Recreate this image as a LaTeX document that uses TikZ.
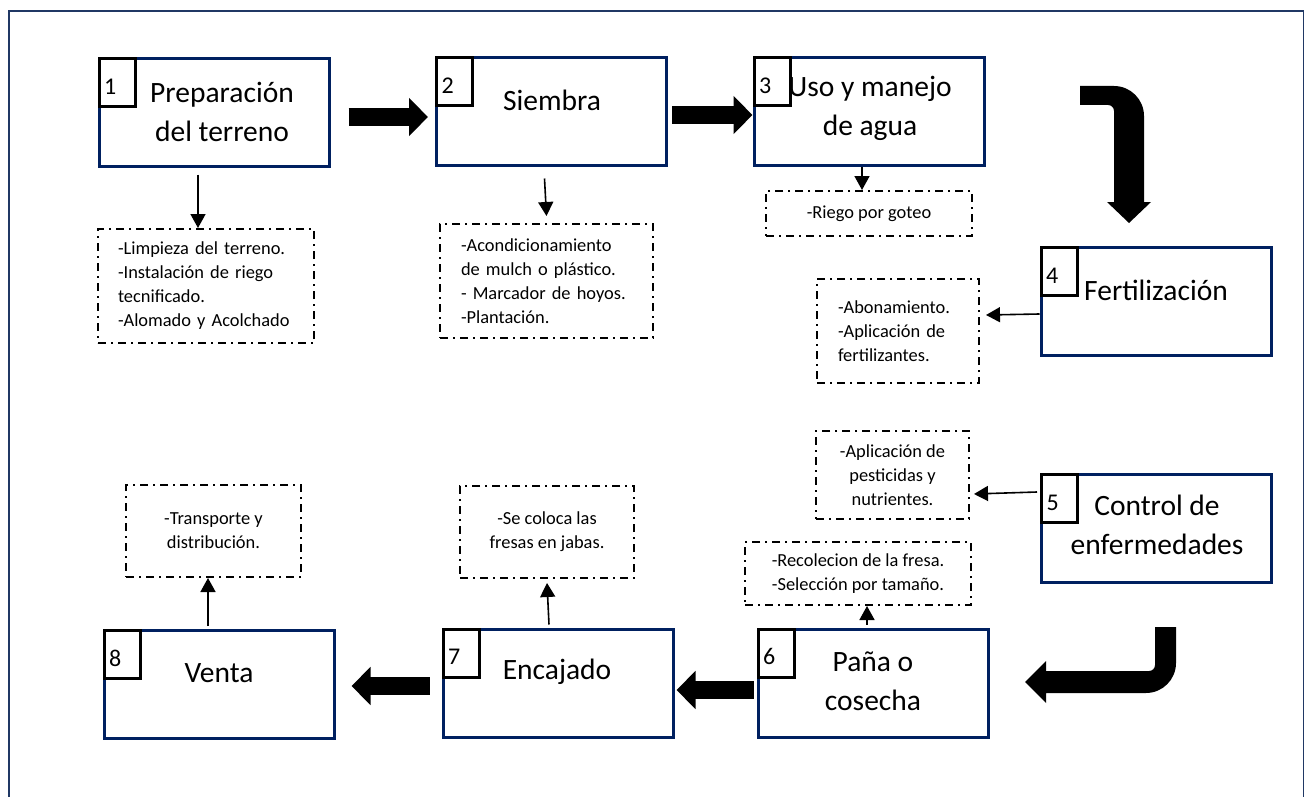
\documentclass[tikz,border=0pt]{standalone}
\usepackage{fontspec}
\setmainfont{Carlito}
\usetikzlibrary{arrows.meta, positioning, calc}
\definecolor{navy}{RGB}{0,32,96}
\definecolor{framecol}{RGB}{32,56,100}
\tikzset{
  stage/.style={draw=navy, line width=1.5pt, minimum width=115pt, minimum height=54pt, inner sep=0pt},
  numbox/.style={draw=black, line width=1.5pt, minimum width=18pt, minimum height=24pt, anchor=north west,
    inner xsep=2.5pt, inner ysep=0pt, text width=13pt, align=left, text height=11.5pt, text depth=0pt,
    font=\fontsize{12}{14}\selectfont},
  stagetext/.style={align=center, inner sep=0pt, font=\fontsize{14.75}{19.5}\selectfont},
  note/.style={draw=black, line width=1pt, dash pattern=on 4pt off 2.5pt on 1pt off 2.5pt,
    inner sep=0pt, font=\fontsize{9.2}{12}\selectfont},
  thinarrow/.style={line width=0.8pt, -{Triangle[width=7.5pt,length=7pt]}},
  blockarrow/.style={line width=9pt, -{Triangle[width=18.5pt,length=9.5pt]}},
}
\begin{document}
\begin{tikzpicture}[x=0.5pt,y=-0.5pt]
\useasboundingbox (0,0) rectangle (1312,797);
\draw[framecol, line width=0.9pt] (9,797) -- (9,11) -- (1303.5,11) -- (1303.5,797);

% etapas
\node[stage] (s1) at (214,113) {};
\node[stage] (s2) at (551.5,112) {};
\node[stage] (s3) at (869,112) {};
\node[stage] (s4) at (1156,301.5) {};
\node[stage] (s5) at (1156.5,528.5) {};
\node[stage] (s6) at (873,683) {};
\node[stage] (s7) at (558,683) {};
\node[stage] (s8) at (219,684.5) {};

\node[stagetext] (t1) at (222,112) {Preparación\\del terreno};
\node[stagetext] (t2) at (552,100) {Siembra};
\node[stagetext] (t3) at (870,108) {Uso y manejo\\de agua};
\node[stagetext] (t4) at (1156,290) {Fertilización};
\node[stagetext] (t5) at (1157,525) {Control de\\enfermedades};
\node[stagetext] (t6) at (873,681) {Paña o\\cosecha};
\node[stagetext] (t7) at (557,672) {Encajado};
\node[stagetext] (t8) at (219,673) {Venta};

\node[numbox] (n1) at (s1.north west) {1};
\node[numbox] (n2) at (s2.north west) {2};
\node[numbox] (n3) at (s3.north west) {3};
\node[numbox] (n4) at (s4.north west) {4};
\node[numbox] (n5) at (s5.north west) {5};
\node[numbox] (n6) at (s6.north west) {6};
\node[numbox] (n7) at (s7.north west) {7};
\node[numbox] (n8) at (s8.north west) {8};

% actividades
\node[note, minimum width=108pt, minimum height=57pt, text width=88pt, inner xsep=10pt, align=left] (d1) at (206,286)
  {-Limpieza del terreno.\\-Instalación de riego\\tecnificado.\\-Alomado y Acolchado};
\node[note, minimum width=106.5pt, minimum height=57pt, text width=85.5pt, inner xsep=10.5pt, align=left] (d2) at (546.5,281)
  {-Acondicionamiento\\de mulch o plástico.\\- Marcador de hoyos.\\-Plantación.};
\node[note, minimum width=103pt, minimum height=22.5pt, align=center] (d3) at (869,213.5) {-Riego por goteo};
\node[note, minimum width=81pt, minimum height=52pt, text width=60pt, inner xsep=10.5pt, align=left] (d4) at (898,331)
  {-Abonamiento.\\-Aplicación de\\fertilizantes.};
\node[note, minimum width=76.5pt, minimum height=44pt, align=center] (d5) at (892.5,475)
  {-Aplicación de\\pesticidas y\\nutrientes.};
\node[note, minimum width=113pt, minimum height=31.5pt, align=center] (d6) at (858,573.5)
  {-Recolecion de la fresa.\\-Selección por tamaño.};
\node[note, minimum width=87pt, minimum height=46pt, align=center] (d7) at (547,532)
  {-Se coloca las\\fresas en jabas.};
\node[note, minimum width=87.5pt, minimum height=46pt, align=center] (d8) at (213.5,531)
  {-Transporte y\\distribución.};

% flechas finas
\draw[thinarrow] ([xshift=-8pt,yshift=-3pt]s1.south) -- ([xshift=-4pt]d1.north);
\draw[thinarrow] ([xshift=-3.5pt,yshift=-5.5pt]s2.south) -- ([yshift=3.5pt]d2.north);
\draw[thinarrow] ([xshift=-3.5pt]s3.south) -- ([xshift=-3.5pt]d3.north);
\draw[thinarrow] ([yshift=-6.25pt]s4.west) -- ([xshift=3pt,yshift=8pt]d4.east);
\draw[thinarrow] ([xshift=-1.5pt,yshift=18.25pt]s5.west) -- ([xshift=2pt,yshift=-9.5pt]d5.east);
\draw[thinarrow] ([xshift=-3pt,yshift=1.5pt]s6.north) -- ([xshift=4.5pt]d6.south);
\draw[thinarrow] ([xshift=-4.5pt,yshift=1.5pt]s7.north) -- ([yshift=-2pt]d7.south);
\draw[thinarrow] ([xshift=-5.5pt,yshift=1.5pt]s8.north) -- ([xshift=-2.75pt]d8.south);

% flechas gruesas
\draw[blockarrow] ([xshift=9pt,yshift=-2pt]s1.east) -- ([xshift=-3.5pt,yshift=-2.5pt]s2.west);
\draw[blockarrow] ([xshift=2pt,yshift=-1.5pt]s2.east) -- ([yshift=-1.5pt]s3.west);
\draw[blockarrow] ([xshift=-1.5pt,yshift=-3.5pt]s6.west) -- ([xshift=1pt,yshift=-3.5pt]s7.east);
\draw[blockarrow] ([xshift=-6pt,yshift=-1.5pt]s7.west) -- ([xshift=8pt,yshift=-0.75pt]s8.east);
\fill (1080,86) [rounded corners=15pt] -- (1144,86) [sharp corners] -- (1144,202) -- (1151,202)
  -- (1129,223) -- (1107,202) -- (1114,202) [rounded corners=3pt] -- (1114,105) [sharp corners] -- (1080,105) -- cycle;
\fill (1155,627) -- (1176,627) [rounded corners=15pt] -- (1176,693) [sharp corners] -- (1046,693) -- (1046,703)
  -- (1025,682) -- (1046,661) -- (1046,671) [rounded corners=3pt] -- (1155,671) [sharp corners] -- cycle;
\end{tikzpicture}
\end{document}
